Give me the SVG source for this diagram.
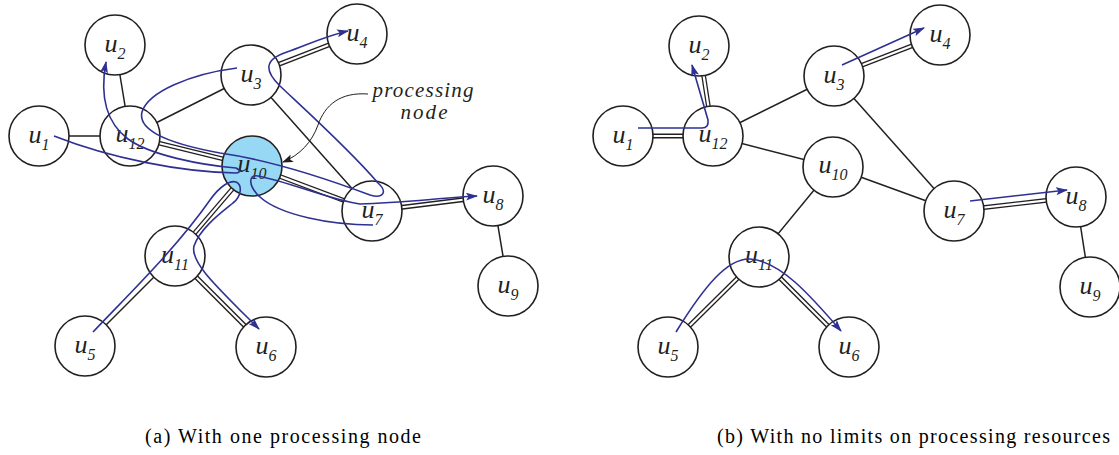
<svg xmlns="http://www.w3.org/2000/svg" width="1119" height="455" viewBox="0 0 1119 455">
<style>
.n{fill:#fff;stroke:#231f20;stroke-width:1.6}
.pn{fill:#97d9f5}
.e{stroke:#231f20;stroke-width:1.5;fill:none}
.db{stroke:#231f20;stroke-width:4.8;fill:none}
.dw{stroke:#fff;stroke-width:2.2;fill:none}
.f{stroke:#2e3192;stroke-width:1.6;fill:none;marker-end:url(#ab)}
.lb{font-family:"Liberation Serif","Times New Roman",serif;font-style:italic;font-size:26px;fill:#231f20;text-anchor:middle}
.sb{font-size:16px}
.pl{font-family:"Liberation Serif","Times New Roman",serif;font-style:italic;font-size:21px;fill:#231f20;text-anchor:middle}
.cap{font-family:"Liberation Serif","Times New Roman",serif;font-size:20px;fill:#000}
</style>
<defs>
<marker id="ab" viewBox="0 0 12 8" refX="11" refY="4" markerWidth="12" markerHeight="8" markerUnits="userSpaceOnUse" orient="auto"><path d="M0,0 L12,4 L0,8 L2.5,4 z" fill="#2e3192"/></marker>
<marker id="ak" viewBox="0 0 11 8" refX="10" refY="4" markerWidth="11" markerHeight="8" markerUnits="userSpaceOnUse" orient="auto"><path d="M0,0 L11,4 L0,8 L2.5,4 z" fill="#231f20"/></marker>
</defs>

<g id="edges">
<line class="e" x1="39" y1="136" x2="130" y2="136"/>
<line class="e" x1="115" y1="45" x2="130" y2="136"/>
<line class="e" x1="130" y1="136" x2="251" y2="75"/>
<line class="e" x1="251" y1="75" x2="372" y2="211"/>
<line class="e" x1="493" y1="196" x2="508" y2="286"/>
<line class="e" x1="175" y1="256" x2="85" y2="346"/>
<g>
<line class="db" x1="130" y1="136" x2="252" y2="166"/><line class="dw" x1="130" y1="136" x2="252" y2="166"/>
<line class="db" x1="251" y1="75" x2="357" y2="34"/><line class="dw" x1="251" y1="75" x2="357" y2="34"/>
<line class="db" x1="252" y1="166" x2="372" y2="211"/><line class="dw" x1="252" y1="166" x2="372" y2="211"/>
<line class="db" x1="372" y1="211" x2="493" y2="196"/><line class="dw" x1="372" y1="211" x2="493" y2="196"/>
<line class="db" x1="252" y1="166" x2="175" y2="256"/><line class="dw" x1="252" y1="166" x2="175" y2="256"/>
<line class="db" x1="175" y1="256" x2="266" y2="347"/><line class="dw" x1="175" y1="256" x2="266" y2="347"/>
</g>
<line class="e" x1="713" y1="136" x2="834" y2="76"/>
<line class="e" x1="713" y1="136" x2="833" y2="167"/>
<line class="e" x1="834" y1="76" x2="954" y2="211"/>
<line class="e" x1="833" y1="167" x2="954" y2="211"/>
<line class="e" x1="833" y1="167" x2="759" y2="257"/>
<line class="e" x1="1076" y1="197" x2="1090" y2="287"/>
<g>
<line class="db" x1="623" y1="136" x2="713" y2="136"/><line class="dw" x1="623" y1="136" x2="713" y2="136"/>
<line class="db" x1="699" y1="46" x2="713" y2="136"/><line class="dw" x1="699" y1="46" x2="713" y2="136"/>
<line class="db" x1="834" y1="76" x2="940" y2="35"/><line class="dw" x1="834" y1="76" x2="940" y2="35"/>
<line class="db" x1="954" y1="211" x2="1076" y2="197"/><line class="dw" x1="954" y1="211" x2="1076" y2="197"/>
<line class="db" x1="759" y1="257" x2="668" y2="347"/><line class="dw" x1="759" y1="257" x2="668" y2="347"/>
<line class="db" x1="759" y1="257" x2="849" y2="347"/><line class="dw" x1="759" y1="257" x2="849" y2="347"/>
</g>
</g>

<g id="a-u1"><circle class="n" cx="39" cy="136" r="30"/><text class="lb" x="39" y="143">u<tspan class="sb" dy="7">1</tspan></text></g>
<g id="a-u2"><circle class="n" cx="115" cy="45" r="30"/><text class="lb" x="115" y="52">u<tspan class="sb" dy="7">2</tspan></text></g>
<g id="a-u3"><circle class="n" cx="251" cy="75" r="30"/><text class="lb" x="251" y="82">u<tspan class="sb" dy="7">3</tspan></text></g>
<g id="a-u4"><circle class="n" cx="357" cy="34" r="30"/><text class="lb" x="357" y="41">u<tspan class="sb" dy="7">4</tspan></text></g>
<g id="a-u5"><circle class="n" cx="85" cy="346" r="30"/><text class="lb" x="85" y="353">u<tspan class="sb" dy="7">5</tspan></text></g>
<g id="a-u6"><circle class="n" cx="266" cy="347" r="30"/><text class="lb" x="266" y="354">u<tspan class="sb" dy="7">6</tspan></text></g>
<g id="a-u7"><circle class="n" cx="372" cy="211" r="30"/><text class="lb" x="372" y="218">u<tspan class="sb" dy="7">7</tspan></text></g>
<g id="a-u8"><circle class="n" cx="493" cy="196" r="30"/><text class="lb" x="493" y="203">u<tspan class="sb" dy="7">8</tspan></text></g>
<g id="a-u9"><circle class="n" cx="508" cy="286" r="30"/><text class="lb" x="508" y="293">u<tspan class="sb" dy="7">9</tspan></text></g>
<g id="a-u10"><circle class="n pn" cx="252" cy="166" r="30"/><text class="lb" x="252" y="172">u<tspan class="sb" dy="7">10</tspan></text></g>
<g id="a-u11"><circle class="n" cx="175" cy="256" r="30"/><text class="lb" x="175" y="263">u<tspan class="sb" dy="7">11</tspan></text></g>
<g id="a-u12"><circle class="n" cx="130" cy="136" r="30"/><text class="lb" x="130" y="142">u<tspan class="sb" dy="7">12</tspan></text></g>

<g id="b-u1"><circle class="n" cx="623" cy="136" r="30"/><text class="lb" x="623" y="143">u<tspan class="sb" dy="7">1</tspan></text></g>
<g id="b-u2"><circle class="n" cx="699" cy="46" r="30"/><text class="lb" x="699" y="53">u<tspan class="sb" dy="7">2</tspan></text></g>
<g id="b-u3"><circle class="n" cx="834" cy="76" r="30"/><text class="lb" x="834" y="83">u<tspan class="sb" dy="7">3</tspan></text></g>
<g id="b-u4"><circle class="n" cx="940" cy="35" r="30"/><text class="lb" x="940" y="42">u<tspan class="sb" dy="7">4</tspan></text></g>
<g id="b-u5"><circle class="n" cx="668" cy="347" r="30"/><text class="lb" x="668" y="354">u<tspan class="sb" dy="7">5</tspan></text></g>
<g id="b-u6"><circle class="n" cx="849" cy="347" r="30"/><text class="lb" x="849" y="354">u<tspan class="sb" dy="7">6</tspan></text></g>
<g id="b-u7"><circle class="n" cx="954" cy="211" r="30"/><text class="lb" x="954" y="218">u<tspan class="sb" dy="7">7</tspan></text></g>
<g id="b-u8"><circle class="n" cx="1076" cy="197" r="30"/><text class="lb" x="1076" y="204">u<tspan class="sb" dy="7">8</tspan></text></g>
<g id="b-u9"><circle class="n" cx="1090" cy="287" r="30"/><text class="lb" x="1090" y="294">u<tspan class="sb" dy="7">9</tspan></text></g>
<g id="b-u10"><circle class="n" cx="833" cy="167" r="30"/><text class="lb" x="833" y="173">u<tspan class="sb" dy="7">10</tspan></text></g>
<g id="b-u11"><circle class="n" cx="759" cy="257" r="30"/><text class="lb" x="759" y="263">u<tspan class="sb" dy="7">11</tspan></text></g>
<g id="b-u12"><circle class="n" cx="713" cy="136" r="30"/><text class="lb" x="713" y="142">u<tspan class="sb" dy="7">12</tspan></text></g>

<g id="flows">
<path class="f" d="M54,136 C110,158 180,172 236,173 Q243,172 236,168 C200,165 150,155 128,139 C108,124 99,100 106,62"/>
<path class="f" d="M237,68 C190,74 148,92 142,112 C138,128 160,142 220,153 C270,160 330,180 370,195 C383,199 388,192 378,183 C350,150 300,105 280,86 C266,72 262,60 287,52 C305,46 325,36 348,31"/>
<path class="f" d="M373,225 C330,225 280,215 260,197 C248,186 248,174 258,176 C290,182 330,200 360,204 C400,203 440,198 477,196"/>
<path class="f" d="M93,332 C125,298 175,250 210,200 C220,186 230,180 236,182 C243,185 241,197 233,203 C222,212 200,228 194,246 C190,262 215,285 259,329"/>
<path class="f" d="M638,128 L702,128 Q709,128 708,120 L692,65"/>
<path class="f" d="M842,65 L924,28"/>
<path class="f" d="M970,201 L1067,190"/>
<path class="f" d="M676,332 C705,285 728,258 750,259 C780,261 810,295 841,331"/>
</g>

<g id="processing-label">
<path d="M368,94 C340,92 325,105 318,125 C312,142 300,155 283,162" fill="none" stroke="#231f20" stroke-width="1" marker-end="url(#ak)"/>
<text class="pl" x="423" y="97" textLength="101" lengthAdjust="spacing">processing</text>
<text class="pl" x="424" y="119" textLength="47" lengthAdjust="spacing">node</text>
</g>

<g id="captions">
<text class="cap" x="145" y="443" textLength="276" lengthAdjust="spacing">(a) With one processing node</text>
<text class="cap" x="717" y="443" textLength="393" lengthAdjust="spacing">(b) With no limits on processing resources</text>
</g>
</svg>
